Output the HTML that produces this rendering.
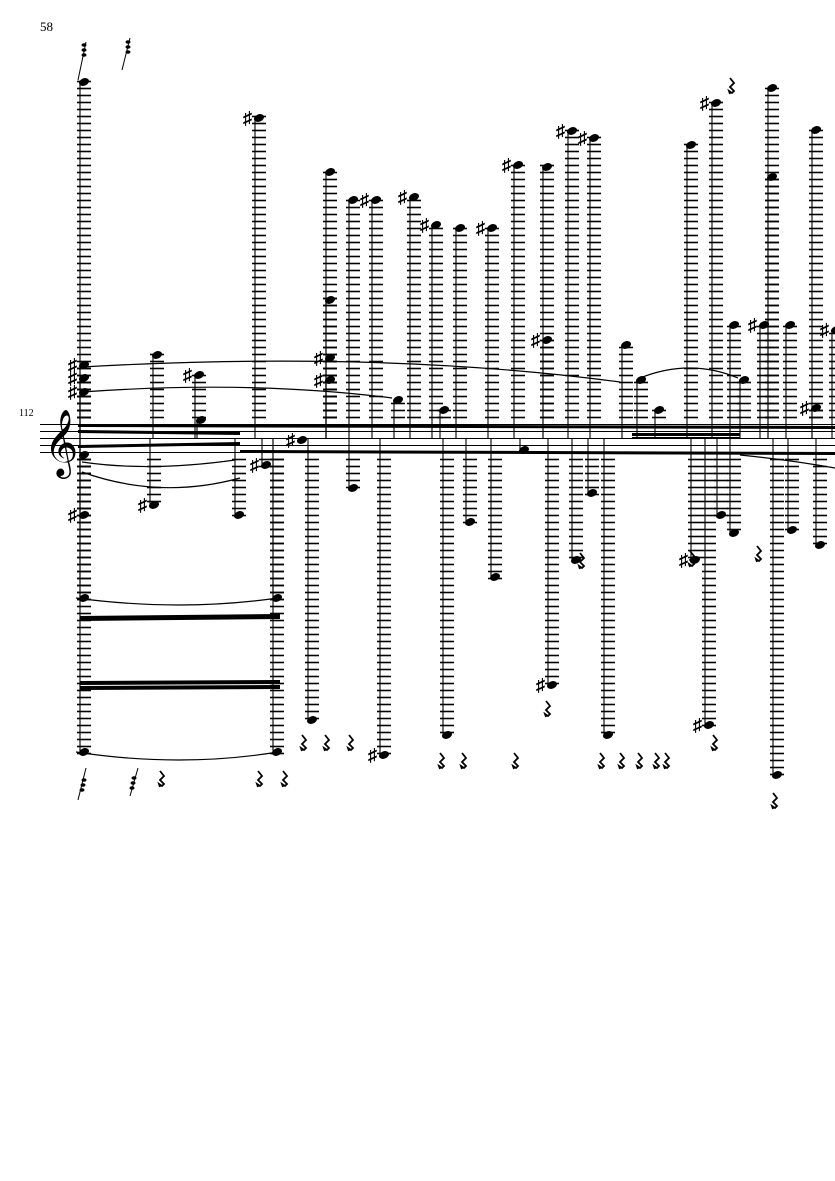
<!DOCTYPE html>
<html><head><meta charset="utf-8"><style>
html,body{margin:0;padding:0;background:#fff}
svg{display:block}
text{font-family:"Liberation Serif",serif;fill:#000}
</style></head><body>
<svg id="s" width="835" height="1181" viewBox="0 0 835 1181" xmlns="http://www.w3.org/2000/svg">
<text x="40" y="31" font-size="13">58</text>
<text x="19" y="416" font-size="10">112</text>
<g stroke="#000" stroke-width="1">
<line x1="40" y1="424.5" x2="835" y2="424.5"/>
<line x1="40" y1="431.5" x2="835" y2="431.5"/>
<line x1="40" y1="438.5" x2="835" y2="438.5"/>
<line x1="40" y1="445.5" x2="835" y2="445.5"/>
<line x1="40" y1="452.5" x2="835" y2="452.5"/>
</g>
<text x="44" y="462" font-size="58" font-family="DejaVu Sans, sans-serif">𝄞</text>
<g fill="#000">
<polygon points="78,424 835,426 835,429 78,427"/>
<polygon points="78,430 240,432 240,435 78,433"/>
<polygon points="78,445 240,442 240,445 78,448"/>
<polygon points="240,450 835,452 835,455 240,453"/>
<polygon points="632,433 740,433 740,436 632,436"/>
<polygon points="632,437 740,437 740,439 632,439"/>
<polygon points="80,616 280,614 280,619 80,621"/>
<polygon points="80,681 280,680 280,684 80,685"/>
<polygon points="80,686 280,685 280,689 80,690"/>
</g>
<g fill="none" stroke="#000" stroke-width="1.2">
<path d="M82,367 Q380,350 620,382"/>
<path d="M82,392 Q250,380 392,398"/>
<path d="M82,462 Q150,472 235,460"/>
<path d="M82,472 Q160,500 240,478"/>
<path d="M76,598 Q180,612 278,598"/>
<path d="M76,752 Q180,768 278,752"/>
<path d="M640,378 Q690,358 738,378"/>
<path d="M740,455 Q790,460 835,468"/>
</g>
<g id="g"></g>
</svg>
<script>
var g=document.getElementById('g'),h='';
function L(x1,y1,x2,y2,w){h+='<line x1="'+x1+'" y1="'+y1+'" x2="'+x2+'" y2="'+y2+'" stroke="#000" stroke-width="'+(w||1)+'"/>';}
function head(x,y){h+='<ellipse cx="'+(x+4)+'" cy="'+y+'" rx="5.2" ry="3.7" transform="rotate(-22 '+(x+4)+' '+y+')" fill="#000"/>';}
function sharp(x,y){h+='<text x="'+(x-12)+'" y="'+(y+6)+'" font-size="18" font-weight="bold">♯</text>';}
function rest(x,y){h+='<path d="M'+x+','+(y-7)+' l4,5 l-4,4 l4,4 l-2,2 l-3,-2 l1,3" fill="none" stroke="#000" stroke-width="1.8"/>';}
function note(x,y,sh){
  if(y<424){for(var ly=417.5;ly>=y-2;ly-=7)L(x-3,ly,x+11,ly,1.6);}
  if(y>452){for(var ly=459.5;ly<=y+2;ly+=7)L(x-3,ly,x+11,ly,1.6);}
  L(x,y,x,438,1.1);head(x,y);if(sh)sharp(x,y);
}
var N=[[80,82],[80,365,1],[80,378,1],[80,392,1],[80,455],[80,515,1],[80,598],[80,752],
[153,355],[150,505,1],[195,375,1],[197,420],[255,118,1],[262,465,1],[235,515],[273,598],[273,752],
[298,440,1],[308,720],[326,172],[326,300],[326,358,1],[326,380,1],[349,200],[349,488],[372,200,1],[380,755,1],[394,400],
[410,197,1],[432,225,1],[440,410],[443,735],[456,228],[466,522],[488,228,1],[491,577],[514,165,1],[520,450],
[543,167],[543,340,1],[548,685,1],[568,131,1],[572,560],[590,138,1],[588,493],[604,735],[622,345],[637,380],[655,410],
[687,145],[691,560,1],[705,725,1],[712,103,1],[717,515],[730,325],[730,533],[740,380],[760,325,1],[768,88],[768,177],[773,775],
[786,325],[788,530],[812,130],[812,408,1],[816,545],[832,330,1]];
N.forEach(function(n){note(n[0],n[1],n[2]);});
[[302,742],[325,742],[349,742],[440,760],[462,760],[514,760],[600,760],[620,760],[638,760],[655,760],[665,760],[713,742],
[160,778],[258,778],[283,778],[580,560],[546,708],[690,558],[757,553],[773,800],[730,85]].forEach(function(r){rest(r[0],r[1]);});
h+='<path d="M122,70 L130,38 M78,80 L86,42" stroke="#000" stroke-width="1"/>';
[[84,45],[84,50],[84,55],[128,42],[128,47],[128,52]].forEach(function(p){h+='<ellipse cx="'+p[0]+'" cy="'+p[1]+'" rx="2.5" ry="1.8" fill="#000"/>';});
h+='<path d="M78,800 L86,768 M130,796 L138,768" stroke="#000" stroke-width="1"/>';
[[82,790],[83,785],[84,780],[132,788],[133,783],[134,778]].forEach(function(p){h+='<ellipse cx="'+p[0]+'" cy="'+p[1]+'" rx="2.5" ry="1.8" fill="#000"/>';});
g.innerHTML=h;
</script>
</body></html>
